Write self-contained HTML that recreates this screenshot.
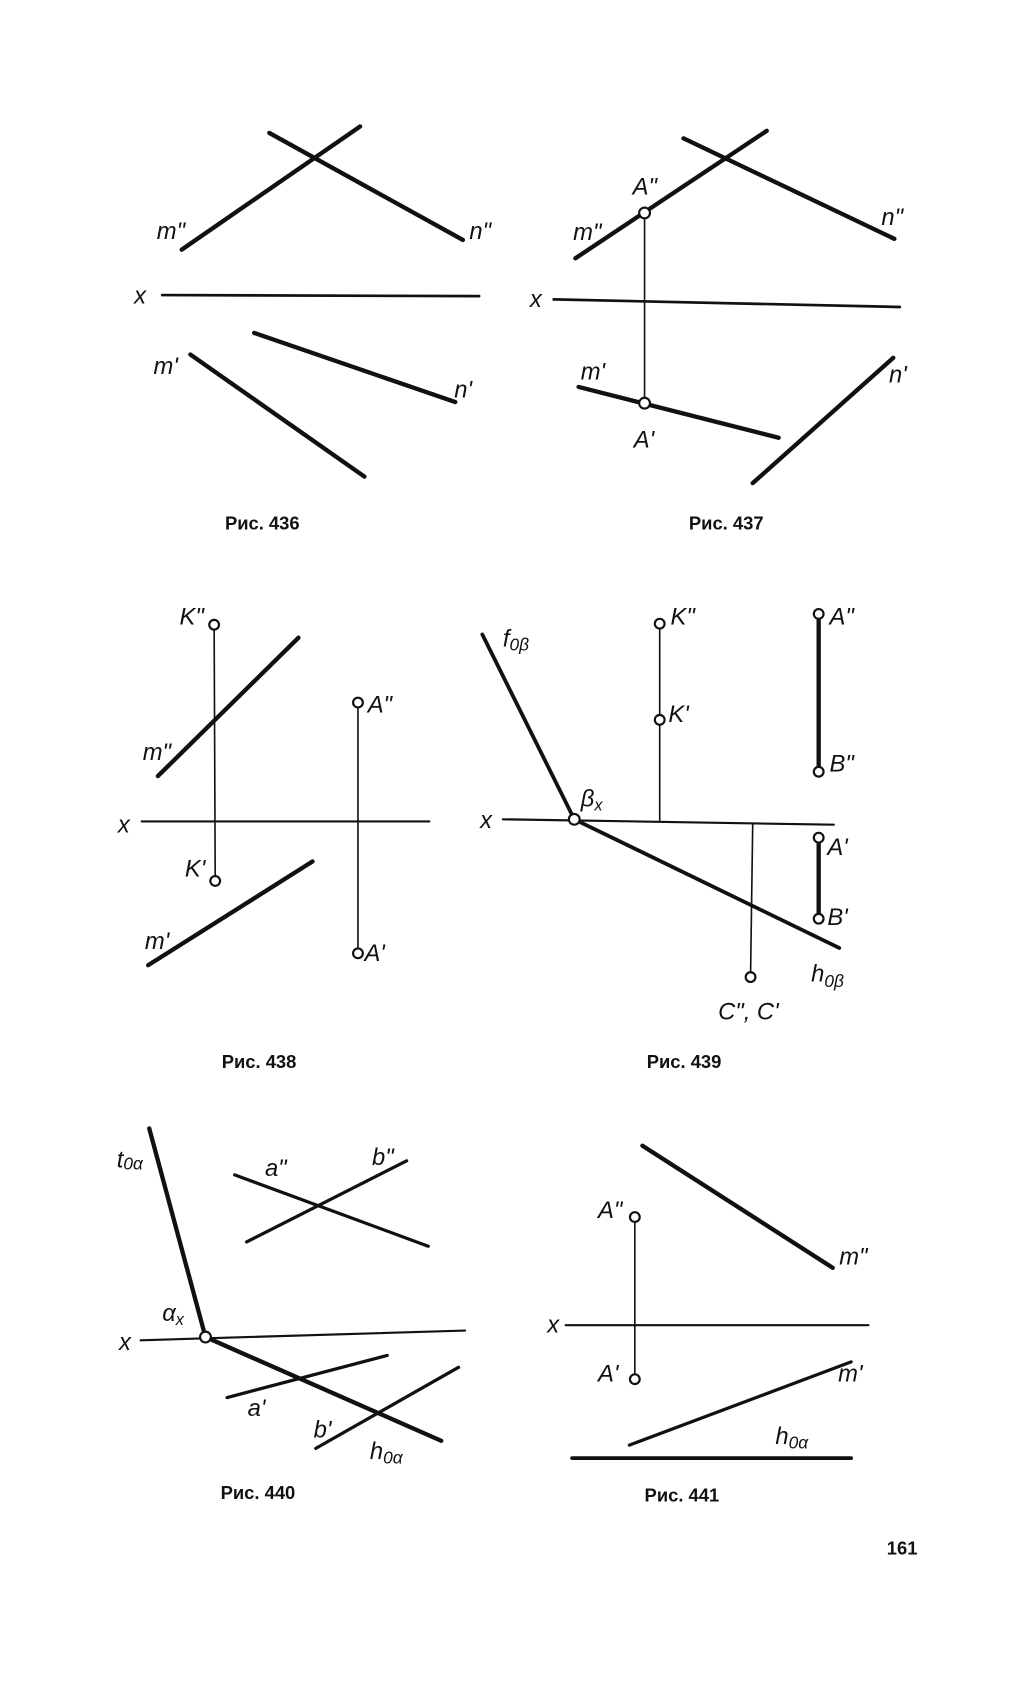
<!DOCTYPE html>
<html><head><meta charset="utf-8"><style>
html,body{margin:0;padding:0;background:#fff;}
svg{display:block;}
text{font-family:"Liberation Sans","DejaVu Sans",sans-serif;fill:#111;}
.l{font-style:italic;font-size:22px;}
.c{font-weight:bold;font-size:17px;font-family:"Liberation Serif",serif;}
</style></head><body>
<svg width="1022" height="1684" viewBox="0 0 945 1558" preserveAspectRatio="none" xmlns="http://www.w3.org/2000/svg">
<g stroke="#111" stroke-linecap="round" fill="none">
<!-- 436 -->
<line x1="168" y1="231" x2="333" y2="117" stroke-width="4"/>
<line x1="249" y1="123" x2="428" y2="222" stroke-width="4"/>
<line x1="150" y1="273" x2="443" y2="274" stroke-width="2.5"/>
<line x1="176" y1="328" x2="337" y2="441" stroke-width="4"/>
<line x1="235" y1="308" x2="421" y2="372" stroke-width="4"/>
<!-- 437 -->
<line x1="532" y1="239" x2="709" y2="121" stroke-width="4"/>
<line x1="632" y1="128" x2="827" y2="221" stroke-width="4"/>
<line x1="512" y1="277" x2="832" y2="284" stroke-width="2.5"/>
<line x1="596" y1="197" x2="596" y2="373" stroke-width="1.5"/>
<line x1="535" y1="358" x2="720" y2="405" stroke-width="4"/>
<line x1="696" y1="447" x2="826" y2="331" stroke-width="4"/>
<!-- 438 -->
<line x1="198" y1="578" x2="199" y2="815" stroke-width="1.5"/>
<line x1="146" y1="718" x2="276" y2="590" stroke-width="4"/>
<line x1="131" y1="760" x2="397" y2="760" stroke-width="2"/>
<line x1="137" y1="893" x2="289" y2="797" stroke-width="4"/>
<line x1="331" y1="650" x2="331" y2="882" stroke-width="1.5"/>
<!-- 439 -->
<line x1="446" y1="587" x2="531" y2="758" stroke-width="3.5"/>
<line x1="465" y1="758" x2="771" y2="763" stroke-width="2"/>
<line x1="531" y1="758" x2="776" y2="877" stroke-width="3.5"/>
<line x1="610" y1="577" x2="610" y2="760" stroke-width="1.5"/>
<line x1="696" y1="762" x2="694" y2="904" stroke-width="1.5"/>
<line x1="757" y1="568" x2="757" y2="714" stroke-width="4"/>
<line x1="757" y1="775" x2="757" y2="850" stroke-width="4"/>
<!-- 440 -->
<line x1="138" y1="1044" x2="190" y2="1237" stroke-width="4"/>
<line x1="130" y1="1240" x2="430" y2="1231" stroke-width="2"/>
<line x1="190" y1="1237" x2="408" y2="1333" stroke-width="4"/>
<line x1="217" y1="1087" x2="396" y2="1153" stroke-width="3"/>
<line x1="228" y1="1149" x2="376" y2="1074" stroke-width="3"/>
<line x1="210" y1="1293" x2="358" y2="1254" stroke-width="3"/>
<line x1="292" y1="1340" x2="424" y2="1265" stroke-width="3"/>
<!-- 441 -->
<line x1="594" y1="1060" x2="770" y2="1173" stroke-width="4"/>
<line x1="587" y1="1126" x2="587" y2="1276" stroke-width="1.5"/>
<line x1="523" y1="1226" x2="803" y2="1226" stroke-width="2"/>
<line x1="582" y1="1337" x2="787" y2="1260" stroke-width="3"/>
<line x1="529" y1="1349" x2="787" y2="1349" stroke-width="3.5"/>
</g>
<g fill="#fff" stroke="#111" stroke-width="2">
<circle cx="596" cy="197" r="5"/><circle cx="596" cy="373" r="5"/>
<circle cx="198" cy="578" r="4.5"/><circle cx="199" cy="815" r="4.5"/>
<circle cx="331" cy="650" r="4.5"/><circle cx="331" cy="882" r="4.5"/>
<circle cx="531" cy="758" r="5"/><circle cx="610" cy="577" r="4.5"/><circle cx="610" cy="666" r="4.5"/>
<circle cx="694" cy="904" r="4.5"/><circle cx="757" cy="568" r="4.5"/><circle cx="757" cy="714" r="4.5"/>
<circle cx="757" cy="775" r="4.5"/><circle cx="757" cy="850" r="4.5"/>
<circle cx="190" cy="1237" r="5"/><circle cx="587" cy="1126" r="4.5"/><circle cx="587" cy="1276" r="4.5"/>
</g>
<g class="l">
<text x="145" y="221">m"</text><text x="434" y="221">n"</text><text x="124" y="281">x</text>
<text x="142" y="346">m'</text><text x="420" y="368">n'</text>
<text x="585" y="180">A"</text><text x="530" y="222">m"</text><text x="815" y="208">n"</text>
<text x="490" y="284">x</text><text x="537" y="351">m'</text><text x="822" y="354">n'</text><text x="586" y="414">A'</text>
<text x="166" y="578">K"</text><text x="132" y="703">m"</text><text x="109" y="770">x</text>
<text x="171" y="811">K'</text><text x="134" y="878">m'</text><text x="340" y="659">A"</text><text x="337" y="889">A'</text>
<text x="465" y="598">f<tspan font-size="16" dy="4">0β</tspan></text>
<text x="537" y="746">β<tspan font-size="15" dy="4">x</tspan></text>
<text x="444" y="766">x</text>
<text x="620" y="578">K"</text><text x="618" y="668">K'</text>
<text x="767" y="578">A"</text><text x="767" y="714">B"</text>
<text x="765" y="791">A'</text><text x="765" y="856">B'</text>
<text x="750" y="908">h<tspan font-size="16" dy="5">0β</tspan></text>
<text x="664" y="943">C", C'</text>
<text x="108" y="1080">t<tspan font-size="16" dy="2">0α</tspan></text>
<text x="150" y="1222">α<tspan font-size="15" dy="4">x</tspan></text>
<text x="110" y="1249">x</text>
<text x="245" y="1088">a"</text><text x="344" y="1078">b"</text>
<text x="229" y="1310">a'</text><text x="290" y="1330">b'</text>
<text x="342" y="1350">h<tspan font-size="16" dy="4">0α</tspan></text>
<text x="553" y="1127">A"</text><text x="776" y="1170">m"</text><text x="506" y="1233">x</text>
<text x="553" y="1278">A'</text><text x="775" y="1278">m'</text>
<text x="717" y="1336">h<tspan font-size="16" dy="4">0α</tspan></text>
</g>
<g class="c">
<text x="208" y="490">Рис. 436</text><text x="637" y="490">Рис. 437</text>
<text x="205" y="988">Рис. 438</text><text x="598" y="988">Рис. 439</text>
<text x="204" y="1387">Рис. 440</text><text x="596" y="1389">Рис. 441</text>
<text x="820" y="1438">161</text>
</g>
</svg>
</body></html>
